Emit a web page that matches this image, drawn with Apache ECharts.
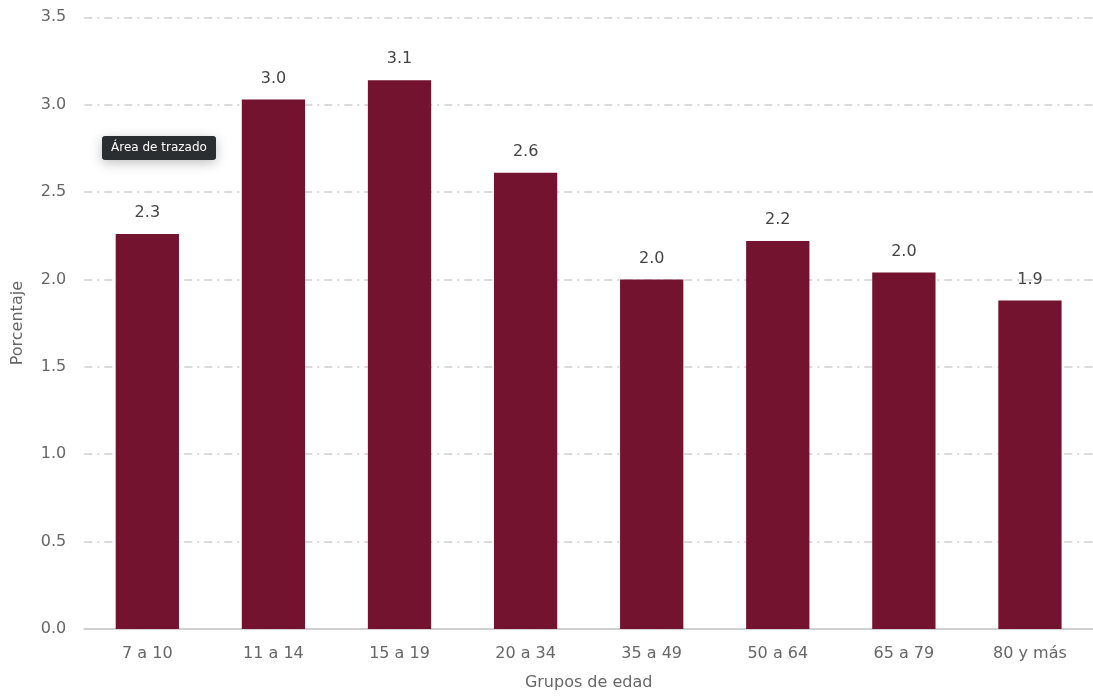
<!DOCTYPE html>
<html>
<head>
<meta charset="utf-8">
<script src="https://cdn.jsdelivr.net/npm/echarts@6/dist/echarts.min.js"></script>
<style>
html,body{margin:0;padding:0;background:#fff;}
#chart{width:1093px;height:696px;}
</style>
</head>
<body>
<div id="chart"></div>
<script>
const categories = ['7 a 10', '11 a 14', '15 a 19', '20 a 34', '35 a 49', '50 a 64', '65 a 79', '80 y más'];
const values = [2.26, 3.03, 3.14, 2.61, 2.0, 2.22, 2.04, 1.88];
const yTicks = [0, 0.5, 1.0, 1.5, 2.0, 2.5, 3.0, 3.5];

const FONT = '"DejaVu Sans", sans-serif';
const chart = echarts.init(document.getElementById('chart'));
chart.setOption({
  animation: false,
  grid: { left: 84.3, right: -2, top: 17.3, bottom: 65.3 },
  xAxis: {
    type: 'category',
    data: categories,
    name: 'Grupos de edad',
    nameLocation: 'middle',
    nameGap: 46,
    nameTextStyle: { color: '#666', fontSize: 16, fontFamily: FONT },
    axisLine: { lineStyle: { color: '#d0d0d0', width: 2 } },
    axisTick: { show: false },
    axisLabel: { color: '#666', fontSize: 16, margin: 17, fontFamily: FONT }
  },
  yAxis: {
    type: 'value',
    min: yTicks[0],
    max: yTicks[yTicks.length - 1],
    interval: 0.5,
    name: 'Porcentaje',
    nameLocation: 'middle',
    nameGap: 58,
    nameTextStyle: { color: '#666', fontSize: 16, fontFamily: FONT },
    axisLine: { show: false },
    axisTick: { show: false },
    axisLabel: { color: '#666', fontSize: 16, margin: 18, fontFamily: FONT, formatter: v => v.toFixed(1) },
    splitLine: { lineStyle: { color: '#cfcfcf', width: 1.5, type: [8, 5, 2, 5] } }
  },
  series: [{
    type: 'bar',
    data: values,
    barWidth: '50.2%',
    itemStyle: { color: '#74132F' },
    label: {
      show: true,
      position: 'top',
      distance: 13,
      color: '#444',
      fontSize: 16,
      fontFamily: FONT,
      formatter: p => p.value.toFixed(1)
    }
  }],
  graphic: [{
    type: 'group',
    left: 102,
    top: 136,
    children: [{
      type: 'rect',
      shape: { x: 0, y: 0, width: 114, height: 24, r: 3 },
      style: { fill: '#2b2e31', shadowBlur: 12, shadowColor: 'rgba(0,0,0,0.25)', shadowOffsetY: 3 }
    }, {
      type: 'text',
      style: { x: 57, y: 12, text: 'Área de trazado', fill: '#fff', fontSize: 12, fontFamily: FONT, align: 'center', verticalAlign: 'middle' }
    }]
  }]
});
</script>
</body>
</html>
